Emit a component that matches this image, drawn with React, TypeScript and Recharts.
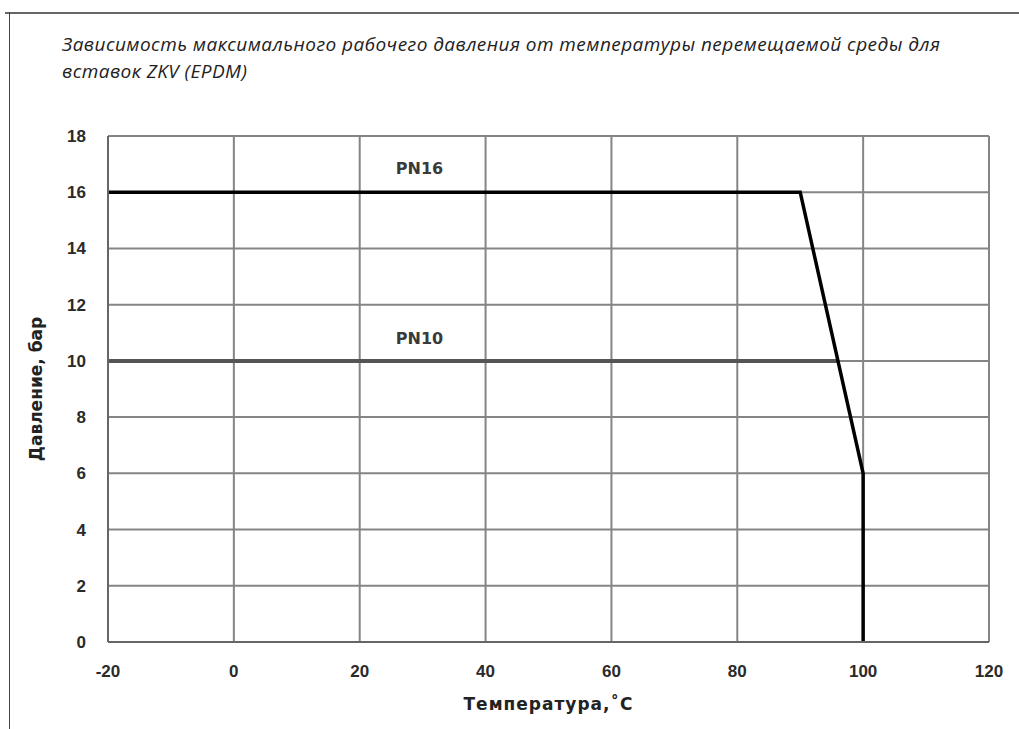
import React from "react";
import {
  LineChart,
  Line,
  XAxis,
  YAxis,
  CartesianGrid,
  ReferenceDot,
  Label,
} from "recharts";

// Curve points
const pn16Temp = [-20, 90, 100, 100];
const pn16Pressure = [16, 16, 6, 0];
const pn10Temp = [-20, 96];
const pn10Pressure = [10, 10];

const xTicks = [-20, 0, 20, 40, 60, 80, 100, 120];
const yTicks = [0, 2, 4, 6, 8, 10, 12, 14, 16, 18];

const seriesLabels = [
  { name: "PN16", x: 29.5, y: 16.85 },
  { name: "PN10", x: 29.5, y: 10.8 },
];

const pn16Data = pn16Temp.map((t, i) => ({ t, p: pn16Pressure[i] }));
const pn10Data = pn10Temp.map((t, i) => ({ t, p: pn10Pressure[i] }));

const tickStyle = {
  fontFamily: "'Liberation Sans', Arial, sans-serif",
  fontWeight: 700,
  fontSize: 17,
  fill: "#2a2a2a",
};

const titleStyle = {
  fontFamily: "'DejaVu Sans', sans-serif",
  fontWeight: 700,
  fontSize: 17,
  fill: "#222",
};

export default function App() {
  return (
    <div
      style={{
        position: "absolute",
        left: 0,
        top: 0,
        width: 1019,
        height: 729,
        background: "#fff",
        overflow: "hidden",
      }}
    >
      {/* frame */}
      <div style={{ position: "absolute", left: 5, top: 12, width: 1014, height: 2, background: "#666" }} />
      <div style={{ position: "absolute", left: 9, top: 12, width: 1, height: 717, background: "#444" }} />

      <div
        style={{
          position: "absolute",
          left: 62,
          top: 31,
          width: 950,
          fontFamily: "'Open Sans', sans-serif",
          fontStyle: "italic",
          fontSize: 19,
          lineHeight: "27px",
          color: "#222",
          letterSpacing: 0.45,
          whiteSpace: "nowrap",
        }}
      >
        Зависимость максимального рабочего давления от температуры перемещаемой среды для
        <br />
        вставок ZKV (EPDM)
      </div>

      <div style={{ position: "absolute", left: 0, top: 0 }}>
        <LineChart
          width={1019}
          height={729}
          margin={{ top: 136, right: 30, bottom: 57, left: 48 }}
        >
          <CartesianGrid
            stroke="#858585"
            strokeWidth={2}
            horizontalValues={yTicks}
            verticalValues={xTicks}
          />
          <XAxis
            type="number"
            dataKey="t"
            domain={[-20, 120]}
            ticks={xTicks}
            height={30}
            tickLine={false}
            axisLine={{ stroke: "#666", strokeWidth: 2 }}
            tick={tickStyle}
            tickMargin={17}
            allowDataOverflow
          >
            <Label
              value="Температура,˚С"
              position="insideBottom"
              offset={-38}
              style={{ ...titleStyle, letterSpacing: 1 }}
            />
          </XAxis>
          <YAxis
            type="number"
            dataKey="p"
            domain={[0, 18]}
            ticks={yTicks}
            width={60}
            tickLine={false}
            axisLine={{ stroke: "#666", strokeWidth: 2 }}
            tick={tickStyle}
            tickMargin={16}
          >
            <Label
              value="Давление, бар"
              angle={-90}
              position="insideLeft"
              offset={-12}
              style={{ ...titleStyle, textAnchor: "middle" }}
            />
          </YAxis>
          <Line
            data={pn10Data}
            dataKey="p"
            stroke="#555"
            strokeWidth={4}
            dot={false}
            isAnimationActive={false}
          />
          <Line
            data={pn16Data}
            dataKey="p"
            stroke="#000"
            strokeWidth={3.5}
            dot={false}
            strokeLinejoin="miter"
            isAnimationActive={false}
          />
          {seriesLabels.map((s) => (
            <ReferenceDot
              key={s.name}
              x={s.x}
              y={s.y}
              r={0}
              stroke="none"
              fill="none"
              label={{
                value: s.name,
                position: "center",
                style: { ...titleStyle, fontSize: 16, fill: "#3a3a3a" },
              }}
            />
          ))}
        </LineChart>
      </div>
    </div>
  );
}
